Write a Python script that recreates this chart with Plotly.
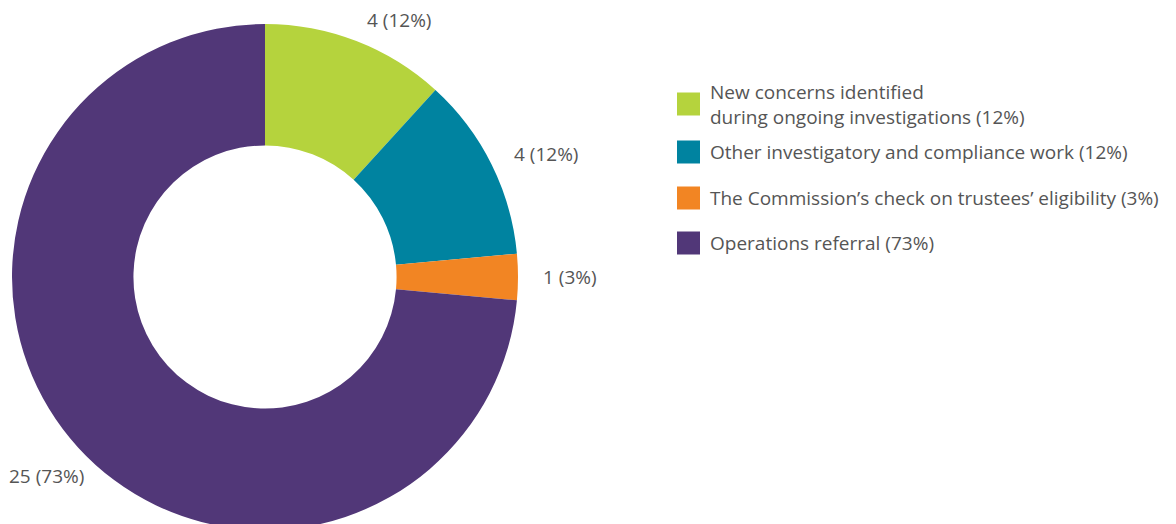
import math
import plotly.graph_objects as go

# Cases opened, by source
categories = [
    "New concerns identified<br>during ongoing investigations (12%)",
    "Other investigatory and compliance work (12%)",
    "The Commission’s check on trustees’ eligibility (3%)",
    "Operations referral (73%)",
]
counts = [4, 4, 1, 25]
percent_labels = ["12%", "12%", "3%", "73%"]
colors = ["#b5d33d", "#0083a0", "#f28523", "#513778"]

W, H = 1176, 540
TEXT = "#555555"
FONT = "Open Sans"
FSIZE = 19

# Donut geometry in pixels (page coordinates from top-left)
cx, cy, R = 265, 277, 253

fig = go.Figure(
    go.Pie(
        values=counts,
        labels=categories,
        marker=dict(colors=colors, line=dict(width=0)),
        hole=0.52,
        sort=False,
        direction="clockwise",
        rotation=0,
        textinfo="none",
        hoverinfo="label+value",
        showlegend=False,
        domain=dict(x=[(cx - R) / W, (cx + R) / W],
                    y=[1 - (cy + R) / H, 1 - (cy - R) / H]),
    )
)

annotations = []
shapes = []

# Value labels just outside each slice, placed at the slice's mid-angle
total = sum(counts)
start = 90.0
for n, p in zip(counts, percent_labels):
    sweep = n / total * 360.0
    mid = math.radians(start - sweep / 2)
    start -= sweep
    r = R * (1.09 if math.sin(mid) > -0.3 else 1.17)
    px = cx + r * math.cos(mid)
    py = cy - r * math.sin(mid)
    if math.sin(mid) < -0.3:
        anchor = "center"
    else:
        anchor = "left" if math.cos(mid) >= 0 else "right"
    annotations.append(dict(
        x=px / W, y=1 - py / H, xref="paper", yref="paper",
        text=f"{n} ({p})", showarrow=False,
        xanchor=anchor, yanchor="middle",
        font=dict(family=FONT, size=FSIZE, color=TEXT),
    ))

# Legend: coloured squares with labels
row_y = [104, 152, 198, 243]
for label, col, y in zip(categories, colors, row_y):
    shapes.append(dict(
        type="rect", xref="paper", yref="paper",
        x0=677 / W, x1=700 / W, y0=1 - (y + 11.5) / H, y1=1 - (y - 11.5) / H,
        fillcolor=col, line=dict(width=0),
    ))
    annotations.append(dict(
        x=708 / W, y=1 - y / H, xref="paper", yref="paper",
        text=label, showarrow=False, align="left",
        xanchor="left", yanchor="middle",
        font=dict(family=FONT, size=FSIZE, color=TEXT),
    ))

fig.update_layout(
    width=W, height=H,
    margin=dict(l=0, r=0, t=0, b=0),
    paper_bgcolor="white", plot_bgcolor="white",
    annotations=annotations, shapes=shapes,
)

fig.write_html("out.html", config={"displayModeBar": False})
